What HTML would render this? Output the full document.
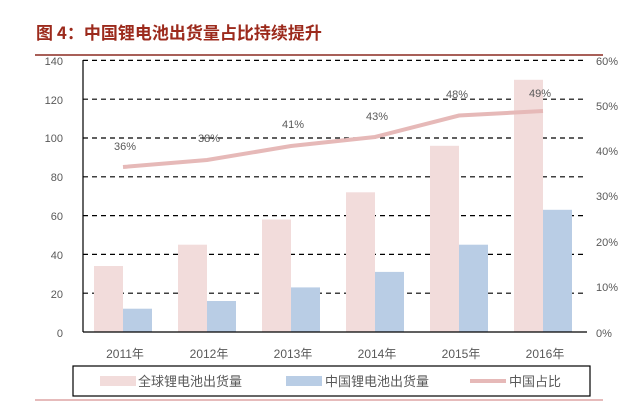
<!DOCTYPE html>
<html><head><meta charset="utf-8"><style>
body{margin:0;background:#fff;}
</style></head><body>
<svg width="640" height="403" xmlns="http://www.w3.org/2000/svg" font-family="Liberation Sans, 'Noto Sans CJK SC', sans-serif">
<text x="36" y="39" font-size="17" font-weight="bold" fill="#9c2a1c" font-family="'Noto Sans CJK SC', sans-serif">图 4：中国锂电池出货量占比持续提升</text>
<line x1="35" y1="55" x2="603" y2="55" stroke="#8b2a20" stroke-width="1.5"/>
<g stroke="#000" stroke-width="1.2" stroke-dasharray="5,4">
<line x1="83" y1="60.4" x2="587" y2="60.4"/>
<line x1="83" y1="99.2" x2="587" y2="99.2"/>
<line x1="83" y1="138" x2="587" y2="138"/>
<line x1="83" y1="176.8" x2="587" y2="176.8"/>
<line x1="83" y1="215.6" x2="587" y2="215.6"/>
<line x1="83" y1="254.4" x2="587" y2="254.4"/>
<line x1="83" y1="293.2" x2="587" y2="293.2"/>
</g>
<g fill="#f2dcdb">
<rect x="94" y="266" width="29" height="66"/>
<rect x="178" y="244.7" width="29" height="87.3"/>
<rect x="262" y="219.5" width="29" height="112.5"/>
<rect x="346" y="192.3" width="29" height="139.7"/>
<rect x="430" y="145.8" width="29" height="186.2"/>
<rect x="514" y="79.8" width="29" height="252.2"/>
</g>
<g fill="#b9cde5">
<rect x="123" y="308.7" width="29" height="23.3"/>
<rect x="207" y="301" width="29" height="31"/>
<rect x="291" y="287.4" width="29" height="44.6"/>
<rect x="375" y="271.9" width="29" height="60.1"/>
<rect x="459" y="244.7" width="29" height="87.3"/>
<rect x="543" y="209.8" width="29" height="122.2"/>
</g>
<polyline points="123,167 207,160 291,146 375,137 459,115.5 543,111" fill="none" stroke="#e6b9b8" stroke-width="4"/>
<line x1="83" y1="60" x2="83" y2="332" stroke="#000" stroke-width="1.2"/>
<line x1="83" y1="332" x2="587" y2="332" stroke="#000" stroke-width="1.2"/>
<g font-size="11" fill="#595959">
<g text-anchor="middle">
<text x="125" y="150">36%</text><text x="209" y="142">38%</text><text x="293" y="128">41%</text><text x="377" y="120">43%</text><text x="457" y="98">48%</text><text x="540" y="97">49%</text>
</g>
<g text-anchor="end">
<text x="63" y="65">140</text><text x="63" y="104">120</text><text x="63" y="142">100</text><text x="63" y="181">80</text><text x="63" y="220">60</text><text x="63" y="259">40</text><text x="63" y="298">20</text><text x="63" y="337">0</text>
</g>
<g text-anchor="start">
<text x="596" y="65">60%</text><text x="596" y="110">50%</text><text x="596" y="155">40%</text><text x="596" y="200">30%</text><text x="596" y="246">20%</text><text x="596" y="291">10%</text><text x="596" y="337">0%</text>
</g>
<g text-anchor="middle" font-size="12">
<text x="125" y="358">2011年</text><text x="209" y="358">2012年</text><text x="293" y="358">2013年</text><text x="377" y="358">2014年</text><text x="461" y="358">2015年</text><text x="545" y="358">2016年</text>
</g>
</g>
<rect x="73" y="366" width="517" height="30" fill="#fff" stroke="#000" stroke-width="1.2"/>
<rect x="100" y="376" width="36" height="10" fill="#f2dcdb"/>
<rect x="286" y="376" width="36" height="10" fill="#b9cde5"/>
<rect x="470" y="379" width="36" height="4" fill="#e6b9b8"/>
<g font-size="13" fill="#595959" font-family="'Noto Sans CJK SC', sans-serif">
<text x="138" y="386">全球锂电池出货量</text>
<text x="325" y="386">中国锂电池出货量</text>
<text x="509" y="386">中国占比</text>
</g>
<line x1="35" y1="400" x2="603" y2="400" stroke="#c77" stroke-width="1"/>
</svg>
</body></html>
